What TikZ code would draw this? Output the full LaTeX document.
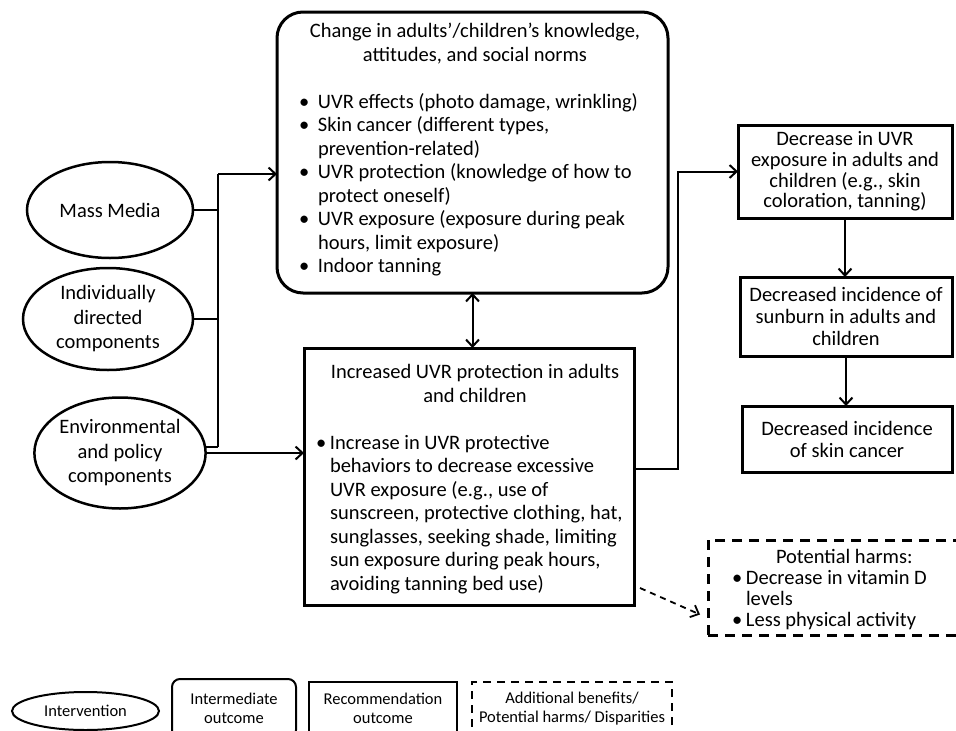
\documentclass[tikz,border=0pt]{standalone}
\usepackage{fontspec}
\setmainfont{Carlito}
\usetikzlibrary{arrows.meta,shapes.geometric}
\newlength\bulx
\newlength\bulw
\newcommand\ctrline[1]{{\centering #1\par}}
\newcommand\bulline[1]{{\raggedright\noindent\hspace*{\bulx}\makebox[\bulw][l]{\textbullet}#1\par}}
\newcommand\contline[1]{{\raggedright\noindent\hspace*{\bulx}\hspace*{\bulw}#1\par}}
\newcommand\blankline{\vspace{\baselineskip}}
\begin{document}
\begin{tikzpicture}[x=1pt,y=-1pt,
  >={Straight Barb[length=7pt,width=13pt]},
  bigfont/.style={font=\fontsize{20.5pt}{23.5pt}\selectfont},
  oval/.style={draw,ellipse,line width=2.5pt,inner sep=0pt,align=center,font=\fontsize{20.5pt}{24.5pt}\selectfont},
  rbox/.style={draw,line width=3pt,inner sep=0pt,outer sep=0pt},
  cbox/.style={draw,line width=3pt,align=center,inner sep=0pt,outer sep=0pt},
  conn/.style={line width=2pt},
  dconn/.style={line width=1.8pt,dash pattern=on 6pt off 5pt},
  legfont/.style={font=\fontsize{16.5pt}{19pt}\selectfont},
  legbox/.style={draw,line width=2pt,align=center,inner sep=0pt,legfont},
]
\useasboundingbox (0,0) rectangle (956,731);
\clip (0,0) rectangle (956,731);

% intervention ellipses
\node[oval,minimum width=166pt,minimum height=96pt] (mm) at (110,210) {Mass Media};
\node[oval,minimum width=170pt,minimum height=102pt] (ind) at (108,319) {Individually\\directed\\components};
\node[oval,minimum width=167pt,minimum height=111pt] (env) at (120,453) {Environmental\\and policy\\components};

% intermediate outcome
\node[rbox,rounded corners=26pt,bigfont] (know) at (472.5,152.5) {\setlength\bulx{22pt}\setlength\bulw{19pt}%
\parbox[c][281pt][t]{391pt}{\vspace*{9.5pt}%
\ctrline{\hspace*{5pt}\strut Change in adults’/children’s knowledge,}
\ctrline{\hspace*{5pt}attitudes, and social norms}
\blankline
\bulline{UVR effects (photo damage, wrinkling)}
\bulline{Skin cancer (different types,}
\contline{prevention-related)}
\bulline{UVR protection (knowledge of how to}
\contline{protect oneself)}
\bulline{UVR exposure (exposure during peak}
\contline{hours, limit exposure)}
\bulline{Indoor tanning}}};

% recommendation outcome
\node[rbox,bigfont] (rec) at (469,476.5) {\setlength\bulx{12pt}\setlength\bulw{14pt}%
\parbox[c][257pt][t]{330pt}{\vspace*{14.5pt}%
\ctrline{\hspace*{12pt}\strut Increased UVR protection in adults}
\ctrline{\hspace*{12pt}and children}
\blankline
\bulline{Increase in UVR protective}
\contline{behaviors to decrease excessive}
\contline{UVR exposure (e.g., use of}
\contline{sunscreen, protective clothing, hat,}
\contline{sunglasses, seeking shade, limiting}
\contline{sun exposure during peak hours,}
\contline{avoiding tanning bed use)}}};

% right column
\node[cbox,minimum width=214pt,minimum height=93pt,font=\fontsize{20.5pt}{20.7pt}\selectfont] (A) at (845,171.5)
  {Decrease in UVR\\exposure in adults and\\children (e.g., skin\\coloration, tanning)};
\node[cbox,minimum width=212pt,minimum height=79pt,font=\fontsize{20.5pt}{22pt}\selectfont] (B) at (846,316.5)
  {Decreased incidence of\\sunburn in adults and\\children};
\node[cbox,minimum width=210pt,minimum height=66pt,font=\fontsize{20.5pt}{22pt}\selectfont] (C) at (847,439)
  {Decreased incidence\\of skin cancer};

% potential harms
\node[rbox,dash pattern=on 10pt off 7pt,font=\fontsize{20.5pt}{20.7pt}\selectfont] (harms) at (841.5,587.5) {\setlength\bulx{24pt}\setlength\bulw{14pt}%
\parbox[c][95pt][t]{267pt}{\vspace*{9.5pt}%
{\noindent\hspace*{68pt}\strut Potential harms:\par}
\bulline{Decrease in vitamin D}
\contline{levels}
\bulline{Less physical activity}}};

% connectors
\coordinate (bt) at (218,174);
\coordinate (bb) at (env.4 -| bt);
\draw[conn] (bt) -- (bb);
\draw[conn] (bb) -- (env.4);
\draw[conn,->] (bt) -- (bt -| know.west);
\draw[conn] (mm.east) -- (mm.east -| bt);
\draw[conn] (ind.east) -- (ind.east -| bt);
\draw[conn,->] (env.east) -- (env.east -| rec.west);
\draw[conn,<->] (know.south) -- (know.south |- rec.north);
\draw[conn,->] ([yshift=7.5pt]rec.east) -- ++(44,0) |- (A.west);
\draw[conn,->] (A.south) -- (A.south |- B.north);
\draw[conn,->] (B.south) -- (B.south |- C.north);
\draw[dconn,->] ([shift={(6pt,17pt)}]rec.south east) -- ([shift={(-8pt,-27pt)}]harms.west);

% legend
\node[oval,legfont,line width=2pt,minimum width=147pt,minimum height=38pt] (lint) at (85.5,711) {Intervention};
\node[legbox,rounded corners=8pt,minimum width=124pt,minimum height=59pt] (limed) at (234,708.5) {Intermediate\\outcome};
\node[legbox,minimum width=148pt,minimum height=53pt] (lrec) at (383,708.5) {Recommendation\\outcome};
\node[legbox,dash pattern=on 8pt off 6pt,minimum width=200pt,minimum height=53pt] (ladd) at (572,708.5) {Additional benefits/\\Potential harms/ Disparities};
\end{tikzpicture}
\end{document}
